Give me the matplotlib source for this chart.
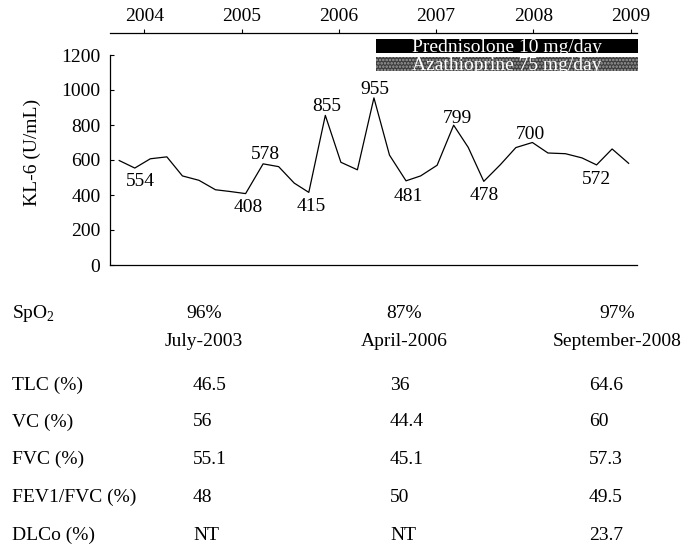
import matplotlib.pyplot as plt

plt.rcParams['font.family'] = ['Liberation Serif', 'DejaVu Serif']
plt.rcParams['mathtext.fontset'] = 'custom'
plt.rcParams['mathtext.rm'] = 'Liberation Serif'
plt.rcParams['hatch.linewidth'] = 1.2

# serial KL-6 measurements (decimal year, U/mL)
sample_dates = [2003.74, 2003.90, 2004.06, 2004.23, 2004.39, 2004.56, 2004.73,
                2004.88, 2005.04, 2005.22, 2005.38, 2005.54, 2005.69, 2005.86,
                2006.02, 2006.19, 2006.36, 2006.52, 2006.69, 2006.84, 2007.01,
                2007.18, 2007.33, 2007.49, 2007.66, 2007.82, 2007.99, 2008.15,
                2008.33, 2008.50, 2008.65, 2008.81, 2008.98]
kl6_values = [597, 554, 607, 618, 509, 484, 430, 420, 408, 578, 562, 468, 415,
              855, 587, 544, 955, 628, 481, 509, 570, 799, 672, 478, 573, 671,
              700, 640, 636, 612, 572, 663, 581]
labelled_points = [1, 8, 9, 12, 13, 16, 18, 21, 23, 26, 30]
year_ticks = [2004, 2005, 2006, 2007, 2008, 2009]
y_ticks = [0, 200, 400, 600, 800, 1000, 1200]

treatments = ["Prednisolone 10 mg/day", "Azathioprine 75 mg/day"]
treatment_start = [2006.38, 2006.38]
treatment_end = [2009.08, 2009.08]

# pulmonary function tests
test_dates = ["July-2003", "April-2006", "September-2008"]
spo2 = ["96%", "87%", "97%"]
row_names = ["TLC (%)", "VC (%)", "FVC (%)", "FEV1/FVC (%)", "DLCo (%)"]
tlc = ["46.5", "36", "64.6"]
vc = ["56", "44.4", "60"]
fvc = ["55.1", "45.1", "57.3"]
fev1_fvc = ["48", "50", "49.5"]
dlco = ["NT", "NT", "23.7"]

W, H = 688, 554
FS = 14

fig = plt.figure(figsize=(W / 100, H / 100), dpi=100)
ax = fig.add_axes([109.5 / W, 1 - 265 / H, 527.5 / W, 210 / H])


def px(x, y):
    return x / W, 1 - y / H


ax.plot(sample_dates, kl6_values, color='black', lw=0.9)

# label offsets in points (dx, dy)
offsets = {1: (4, -8), 8: (2, -8.5), 9: (1.5, 8.5), 12: (2, -8.5),
           13: (1, 8), 16: (1, 7.5), 18: (2, -9.5), 21: (2.5, 6.5),
           23: (0, -8.5), 26: (-1.5, 7), 30: (0, -9)}
for i in labelled_points:
    ax.annotate(str(kl6_values[i]), (sample_dates[i], kl6_values[i]),
                xytext=offsets[i], textcoords='offset points',
                ha='center', va='center_baseline', fontsize=FS)

ax.set_xlim(2003.64, 2009.066)
ax.set_ylim(0, 1200)
ax.set_yticks(y_ticks, labels=[str(v) for v in y_ticks])
ax.tick_params(axis='y', direction='in', length=3, pad=6.5, labelsize=FS,
               width=0.8)

ax.xaxis.tick_top()
ax.set_xticks(year_ticks, labels=[str(y) for y in year_ticks])
ax.tick_params(axis='x', direction='out', length=3, pad=3, labelsize=FS,
               width=0.8)
ax.spines['top'].set_position(('outward', 15.6))
ax.spines['right'].set_visible(False)
for s in ['top', 'left', 'bottom']:
    ax.spines[s].set_linewidth(0.9)

# treatment bars
bar_y = [1251, 1148]
bar_style = [dict(color='black'),
             dict(facecolor='#3c3c3c', edgecolor='#a0a0a0', hatch='.....',
                  linewidth=0)]
for name, st, en, yb, sty in zip(treatments, treatment_start, treatment_end,
                                 bar_y, bar_style):
    ax.barh(yb, en - st, left=st, height=77, clip_on=False, **sty)
    ax.text((st + en) / 2, yb - 8, name, color='white', ha='center',
            va='center', fontsize=FS, clip_on=False)

fig.text(*px(32, 152), "KL-6 (U/mL)", rotation=90, ha='center',
         va='center', fontsize=FS)

# table below the chart
col_centers = [204, 404, 617]
col_left = [193, 390, 589]
fig.text(*px(12, 313), r"SpO$_\mathrm{2}$", ha='left', va='center',
         fontsize=FS)
for c, s, d in zip(col_centers, spo2, test_dates):
    fig.text(*px(c, 313), s, ha='center', va='center', fontsize=FS)
    fig.text(*px(c, 342), d, ha='center', va='center', fontsize=FS)

rows = [tlc, vc, fvc, fev1_fvc, dlco]
row_y = [385, 422, 459, 497, 535]
for name, vals, y in zip(row_names, rows, row_y):
    fig.text(*px(12, y), name, ha='left', va='center', fontsize=FS)
    for x, v in zip(col_left, vals):
        fig.text(*px(x, y), v, ha='left', va='center', fontsize=FS)

fig.savefig("out.png", dpi=100)
